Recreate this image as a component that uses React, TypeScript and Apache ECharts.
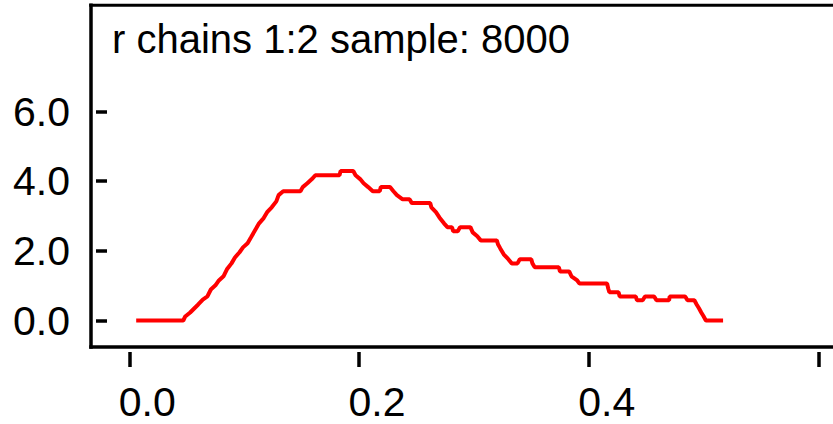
import React, { useEffect, useRef } from "react";
import * as echarts from "echarts";

const titleText = "r chains 1:2 sample: 8000";
const xTicks = [0.0, 0.2, 0.4, 0.6];
const xTickLabels = [0.0, 0.2, 0.4];
const yTicks = [0.0, 2.0, 4.0, 6.0];

const densityX = [
  0.006, 0.047, 0.0487, 0.053, 0.06, 0.064, 0.068, 0.071, 0.075, 0.078, 0.082, 0.085, 0.089, 0.092,
  0.096, 0.099, 0.103, 0.106, 0.11, 0.113, 0.117, 0.12, 0.124, 0.128, 0.13, 0.134, 0.149, 0.151,
  0.155, 0.159, 0.162, 0.183, 0.184, 0.195, 0.197, 0.201, 0.204, 0.208, 0.212, 0.218, 0.219, 0.227,
  0.23, 0.233, 0.238, 0.244, 0.246, 0.262, 0.263, 0.267, 0.27, 0.274, 0.277, 0.281, 0.282, 0.286,
  0.288, 0.297, 0.299, 0.303, 0.306, 0.32, 0.321, 0.323, 0.326, 0.33, 0.333, 0.338, 0.34, 0.35,
  0.351, 0.353, 0.374, 0.375, 0.383, 0.385, 0.39, 0.392, 0.416, 0.417, 0.418, 0.426, 0.427, 0.441,
  0.442, 0.447, 0.449, 0.457, 0.459, 0.47, 0.4705, 0.484, 0.486, 0.492, 0.494, 0.496, 0.498, 0.5,
  0.502, 0.517,
];
const densityY = [
  0, 0, 0.115, 0.23, 0.46, 0.6, 0.69, 0.89, 1.01, 1.15, 1.27, 1.47, 1.64, 1.81,
  1.96, 2.1, 2.22, 2.39, 2.62, 2.79, 2.94, 3.11, 3.25, 3.42, 3.6, 3.71, 3.71, 3.83,
  3.94, 4.06, 4.17, 4.17, 4.29, 4.29, 4.17, 4.06, 3.94, 3.83, 3.71, 3.71, 3.83, 3.83,
  3.71, 3.6, 3.48, 3.48, 3.37, 3.37, 3.25, 3.11, 2.96, 2.79, 2.68, 2.68, 2.56, 2.56,
  2.68, 2.68, 2.53, 2.42, 2.3, 2.3, 2.19, 2.07, 1.9, 1.76, 1.64, 1.64, 1.76, 1.76,
  1.64, 1.53, 1.53, 1.41, 1.41, 1.27, 1.15, 1.06, 1.06, 0.92, 0.81, 0.81, 0.69, 0.69,
  0.58, 0.58, 0.69, 0.69, 0.58, 0.58, 0.69, 0.69, 0.58, 0.58, 0.46, 0.35, 0.23, 0.12,
  0, 0,
];

const FONT = "'Liberation Sans', Arial, sans-serif";

export default function App() {
  const ref = useRef<HTMLDivElement>(null);
  useEffect(() => {
    if (!ref.current) return;
    const chart = echarts.init(ref.current, undefined, { renderer: "svg" });
    const GL = 96;
    const GB = 347;
    const GT = 5;
    const W = 833;
    // pixel mapping: x = 129.3 + v*1148.5 ; y = 320.5 - v*34.83
    const xMin = (GL - 129.3) / 1148.5;
    const xMax = (W - 129.3) / 1148.5;
    const yMin = (320.5 - GB) / 34.83;
    const yMax = (320.5 - GT) / 34.83;
    chart.setOption({
      animation: false,
      backgroundColor: "#ffffff",
      grid: { left: GL, right: 0, top: GT, bottom: 424 - GB, containLabel: false },
      xAxis: {
        type: "value",
        min: xMin,
        max: xMax,
        offset: 5,
        axisLine: { show: false, onZero: false },
        splitLine: { show: false },
        axisTick: {
          show: true,
          length: 15,
          customValues: xTicks,
          lineStyle: { color: "#000", width: 3.5 },
        },
        axisLabel: {
          show: true,
          customValues: xTickLabels,
          margin: 29,
          fontSize: 41,
          fontFamily: FONT,
          color: "#000",
          align: "center",
          padding: [0, 0, 0, 36],
          formatter: (v: number) => v.toFixed(1),
        },
      },
      yAxis: {
        type: "value",
        min: yMin,
        max: yMax,
        axisLine: { show: false, onZero: false },
        splitLine: { show: false },
        axisTick: {
          show: true,
          inside: true,
          length: 11,
          customValues: yTicks,
          lineStyle: { color: "#000", width: 3.5 },
        },
        axisLabel: {
          show: true,
          customValues: yTicks,
          margin: 26,
          fontSize: 41,
          fontFamily: FONT,
          color: "#000",
          formatter: (v: number) => v.toFixed(1),
        },
      },
      graphic: [
        {
          type: "line",
          shape: { x1: 91, y1: 3.5, x2: 91, y2: 348.75 },
          style: { stroke: "#000", lineWidth: 3.5 },
        },
        {
          type: "line",
          shape: { x1: 89.25, y1: 5.3, x2: 833, y2: 5.3 },
          style: { stroke: "#000", lineWidth: 3 },
        },
        {
          type: "line",
          shape: { x1: 89.25, y1: 347, x2: 833, y2: 347 },
          style: { stroke: "#000", lineWidth: 3.5 },
        },
        {
          type: "text",
          x: 112,
          y: 19,
          style: {
            text: titleText,
            font: `40px ${FONT}`,
            fill: "#000",
            textVerticalAlign: "top",
          },
        },
      ],
      series: [
        {
          type: "line",
          data: densityX.map((x, i) => [x, densityY[i]]),
          symbol: "none",
          lineStyle: { color: "#ff0000", width: 4 },
        },
      ],
    });
    return () => chart.dispose();
  }, []);
  return (
    <div
      ref={ref}
      style={{ position: "fixed", left: 0, top: 0, width: 833, height: 424 }}
    />
  );
}
